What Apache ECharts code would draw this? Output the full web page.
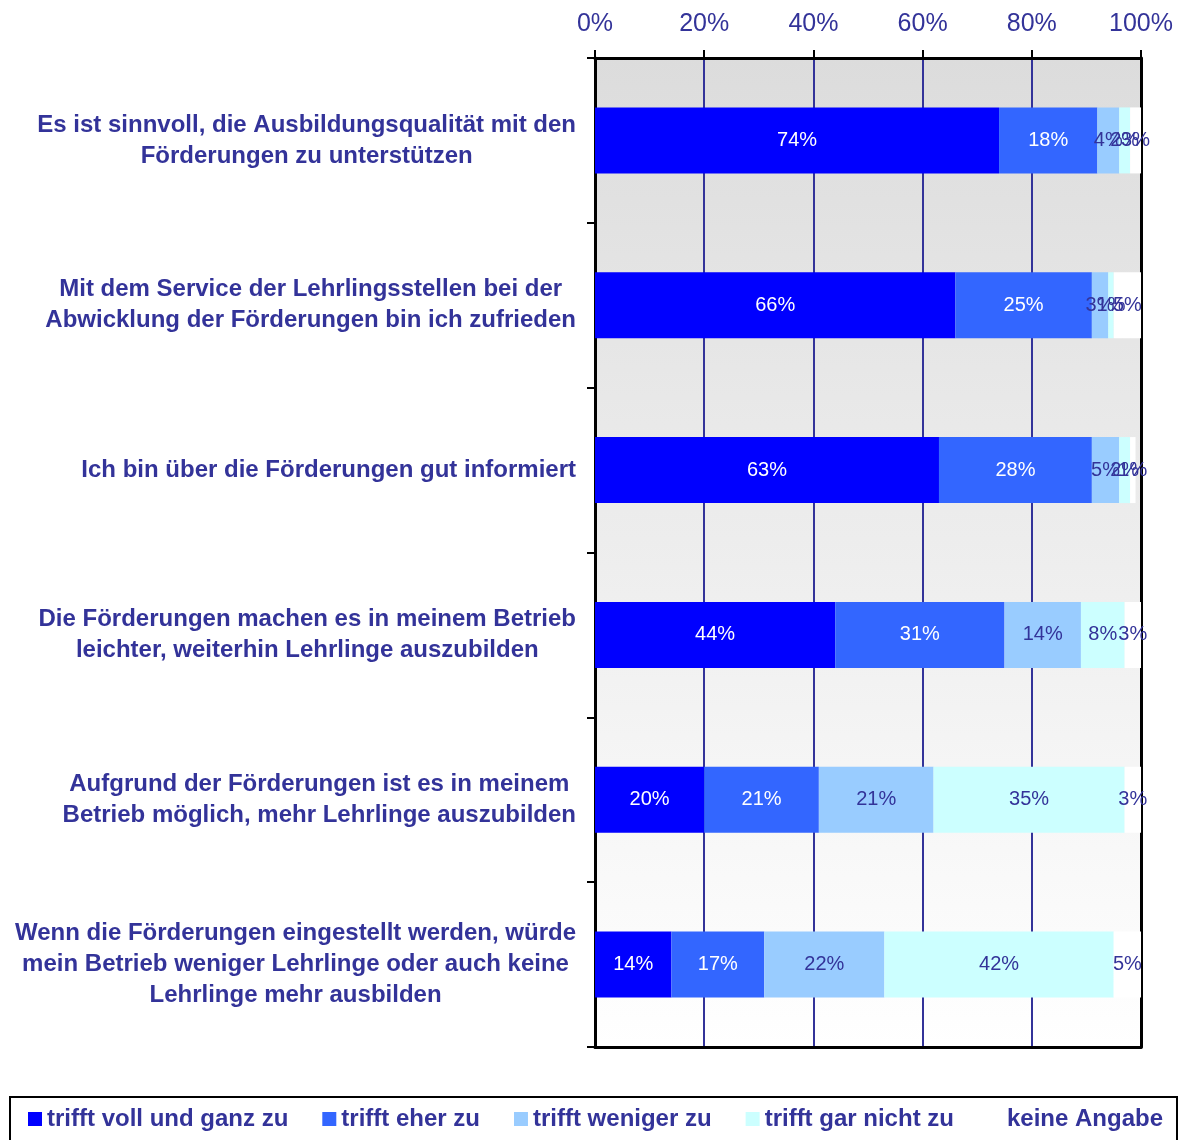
<!DOCTYPE html>
<html><head><meta charset="utf-8">
<script src="https://cdn.jsdelivr.net/npm/echarts@6/dist/echarts.min.js"></script>
<style>html,body{margin:0;padding:0;background:#fff}#c{width:1184px;height:1140px}</style>
</head><body><div id="c"></div>
<script>
const categories = [
  ["Es ist sinnvoll, die Ausbildungsqualität mit den", "Förderungen zu unterstützen"],
  ["Mit dem Service der Lehrlingsstellen bei der", "Abwicklung der Förderungen bin ich zufrieden"],
  ["Ich bin über die Förderungen gut informiert"],
  ["Die Förderungen machen es in meinem Betrieb", "leichter, weiterhin Lehrlinge auszubilden"],
  ["Aufgrund der Förderungen ist es in meinem", "Betrieb möglich, mehr Lehrlinge auszubilden"],
  ["Wenn die Förderungen eingestellt werden, würde", "mein Betrieb weniger Lehrlinge oder auch keine", "Lehrlinge mehr ausbilden"]
];
const seriesNames = ["trifft voll und ganz zu", "trifft eher zu", "trifft weniger zu", "trifft gar nicht zu", "keine Angabe"];
const vollUndGanz = [74, 66, 63, 44, 20, 14];
const eherZu      = [18, 25, 28, 31, 21, 17];
const wenigerZu   = [4, 3, 5, 14, 21, 22];
const garNicht    = [2, 1, 2, 8, 35, 42];
const keineAngabe = [3, 5, 1, 3, 3, 5];
const xTicks = [0, 20, 40, 60, 80, 100];

const seriesData = [vollUndGanz, eherZu, wenigerZu, garNicht, keineAngabe];
const colors = ["#0000FF", "#3366FF", "#99CCFF", "#CCFFFF", "#FFFFFF"];
const labelColors = ["#FFFFFF", "#FFFFFF", "#333399", "#333399", "#333399"];
const navy = "#333399";
const font = "Liberation Sans, Arial, sans-serif";

const chart = echarts.init(document.getElementById('c'), null, {renderer: 'canvas'});
chart.setOption({
  animation: false,
  textStyle: {fontFamily: font},
  grid: {
    left: 595, right: 43, top: 58, bottom: 93,
    show: true, borderWidth: 0,
    backgroundColor: {type: 'linear', x: 0, y: 0, x2: 0, y2: 1,
      colorStops: [{offset: 0, color: '#dcdcdc'}, {offset: 1, color: '#ffffff'}]}
  },
  legend: {
    data: seriesNames,
    left: 10, bottom: -2,
    padding: [10, 14, 11, 18],
    borderColor: '#000', borderWidth: 2,
    itemWidth: 14, itemHeight: 14, itemGap: 34,
    icon: 'rect',
    textStyle: {color: navy, fontWeight: 'bold', fontSize: 24, fontFamily: font}
  },
  xAxis: [{
    type: 'value', position: 'top', min: 0, max: 100, interval: 20,
    axisLine: {show: true, lineStyle: {color: '#000', width: 3}},
    axisTick: {show: true, length: 8, lineStyle: {color: '#000', width: 2}},
    splitLine: {show: true, lineStyle: {color: navy, width: 2}},
    axisLabel: {formatter: v => xTicks.includes(v) ? v + '%' : '', color: navy, fontSize: 25, margin: 21, fontFamily: font}
  }, {
    type: 'value', position: 'bottom', min: 0, max: 100, interval: 20,
    axisLine: {show: true, lineStyle: {color: '#000', width: 3}},
    axisTick: {show: false}, splitLine: {show: false}, axisLabel: {show: false}
  }],
  yAxis: [{
    type: 'category', inverse: true, position: 'left',
    data: categories.map((c, i) => 'c' + i),
    axisLine: {show: true, onZero: false, lineStyle: {color: '#000', width: 3}},
    axisTick: {show: true, length: 8, lineStyle: {color: '#000', width: 2}},
    axisLabel: {
      margin: 19,
      formatter: (v, i) => categories[i].map(l => '{c|' + l + '}').join('\n'),
      rich: {c: {align: 'center', color: navy, fontWeight: 'bold', fontSize: 24, lineHeight: 31, fontFamily: font}}
    }
  }, {
    type: 'category', inverse: true, position: 'right',
    data: categories.map((c, i) => 'c' + i),
    axisLine: {show: true, onZero: false, lineStyle: {color: '#000', width: 3}},
    axisTick: {show: false}, axisLabel: {show: false}
  }],
  series: seriesData.map((d, k) => ({
    name: seriesNames[k], type: 'bar', stack: 'all',
    xAxisIndex: 0, yAxisIndex: 0,
    barWidth: 66,
    data: d,
    itemStyle: {color: colors[k]},
    label: {show: true, position: 'inside', formatter: '{c}%', color: labelColors[k], fontSize: 20, fontFamily: font}
  }))
});
</script></body></html>
